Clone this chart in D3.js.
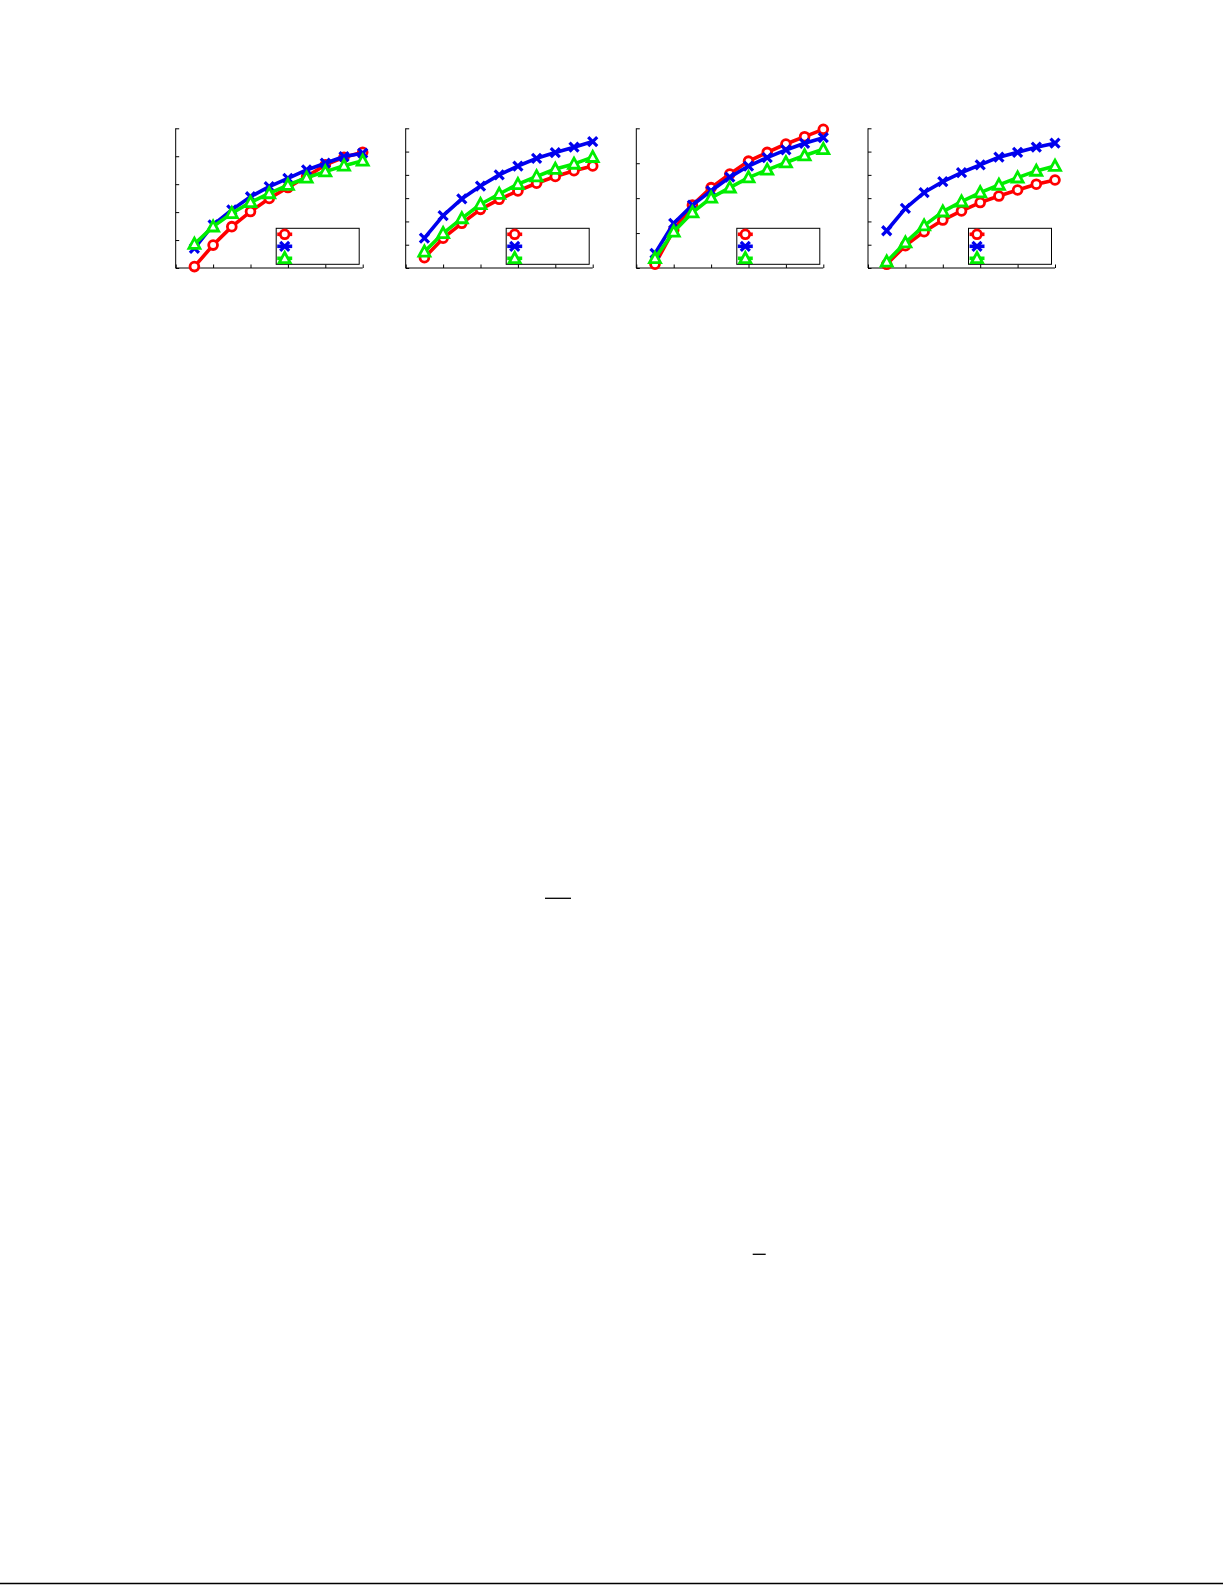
<!DOCTYPE html>
<html>
<head>
<meta charset="utf-8">
<script src="https://cdn.jsdelivr.net/npm/d3@7"></script>
<style>
  html, body { margin: 0; padding: 0; background: #fff; }
  svg { display: block; }
</style>
</head>
<body>
<script>
// x positions shared by all four panels
var xs = [1, 2, 3, 4, 5, 6, 7, 8, 9, 10];
var xTicks = [0, 2, 4, 6, 8, 10];

// series names (legend text did not print in the source, so kept blank)
var seriesNames = ["", "", ""];

// y tick ranges per panel (no tick labels are printed)
var yMax = [5, 6, 4, 6];

// panel 1
var p1Red   = [0.05, 0.82, 1.48, 2.02, 2.49, 2.88, 3.27, 3.69, 3.96, 4.14];
var p1Blue  = [0.70, 1.54, 2.08, 2.55, 2.91, 3.21, 3.51, 3.75, 3.99, 4.11];
var p1Green = [0.86, 1.48, 1.96, 2.35, 2.67, 2.97, 3.23, 3.45, 3.66, 3.84];
// panel 2
var p2Red   = [0.44, 1.28, 1.92, 2.52, 2.95, 3.31, 3.64, 3.93, 4.18, 4.38];
var p2Blue  = [1.28, 2.25, 2.97, 3.52, 4.00, 4.38, 4.71, 4.96, 5.19, 5.43];
var p2Green = [0.70, 1.49, 2.13, 2.74, 3.18, 3.60, 3.93, 4.25, 4.47, 4.76];
// panel 3
var p3Red   = [0.11, 1.09, 1.80, 2.30, 2.69, 3.06, 3.31, 3.55, 3.76, 3.97];
var p3Blue  = [0.42, 1.28, 1.80, 2.21, 2.60, 2.92, 3.16, 3.38, 3.57, 3.73];
var p3Green = [0.28, 1.04, 1.59, 2.01, 2.30, 2.59, 2.81, 3.02, 3.22, 3.40];
// panel 4
var p4Red   = [0.16, 0.96, 1.56, 2.06, 2.45, 2.81, 3.09, 3.35, 3.60, 3.78];
var p4Blue  = [1.60, 2.56, 3.24, 3.71, 4.10, 4.43, 4.76, 4.97, 5.19, 5.36];
var p4Green = [0.27, 1.09, 1.82, 2.42, 2.85, 3.24, 3.57, 3.88, 4.17, 4.38];

var panels = [
  [p1Red, p1Blue, p1Green],
  [p2Red, p2Blue, p2Green],
  [p3Red, p3Blue, p3Green],
  [p4Red, p4Blue, p4Green]
];

var colors = ["#ff0000", "#0000ee", "#00ee00"];
var markers = ["circle", "cross", "triangle"];

var W = 1225, H = 1585;
var svg = d3.select("body").append("svg")
  .attr("width", W)
  .attr("height", H);

var pw = 187, ph = 139.7, panelTop = 128.3;
var lefts = [175.7, 405.7, 636.3, 868];

function drawMarker(g, type, color) {
  if (type === "circle") {
    g.append("circle").attr("r", 4.4)
      .attr("fill", "#fff").attr("stroke", color).attr("stroke-width", 2.8);
  } else if (type === "cross") {
    var s = 4.5;
    g.append("path")
      .attr("d", "M" + -s + "," + -s + "L" + s + "," + s + "M" + -s + "," + s + "L" + s + "," + -s)
      .attr("stroke", color).attr("stroke-width", 3.2).attr("fill", "none");
  } else {
    var a = 5.8;
    g.append("path")
      .attr("d", "M0," + (-a) + "L" + (a * 0.95) + "," + (a * 0.75) + "L" + (-a * 0.95) + "," + (a * 0.75) + "Z")
      .attr("fill", "#fff").attr("stroke", color).attr("stroke-width", 2.8)
      .attr("stroke-linejoin", "miter");
  }
}

panels.forEach(function (series, pi) {
  var g = svg.append("g")
    .attr("transform", "translate(" + lefts[pi] + "," + panelTop + ")");

  var x = d3.scaleLinear().domain([0, 10]).range([0, pw]);
  var y = d3.scaleLinear().domain([0, yMax[pi]]).range([ph, 0]);

  // axes with inward ticks, no labels
  g.append("g")
    .attr("transform", "translate(0," + ph + ")")
    .call(d3.axisTop(x).tickValues(xTicks).tickSize(3.5).tickFormat(""))
    .call(function (a) {
      a.select(".domain").attr("d", "M0,0H" + pw);
      a.selectAll("path, line").attr("stroke", "#000").attr("stroke-width", 1);
    });
  g.append("g")
    .call(d3.axisRight(y).ticks(yMax[pi]).tickSize(3.5).tickFormat(""))
    .call(function (a) {
      a.select(".domain").attr("d", "M0," + ph + "V0");
      a.selectAll("path, line").attr("stroke", "#000").attr("stroke-width", 1);
    });

  var line = d3.line()
    .x(function (d, i) { return x(xs[i]); })
    .y(function (d) { return y(d); });

  series.forEach(function (vals, si) {
    var sg = g.append("g");
    sg.append("path")
      .datum(vals)
      .attr("d", line)
      .attr("fill", "none")
      .attr("stroke", colors[si])
      .attr("stroke-width", 3.6)
      .attr("stroke-linejoin", "round");
    vals.forEach(function (v, i) {
      var m = sg.append("g")
        .attr("transform", "translate(" + x(xs[i]) + "," + y(v) + ")");
      drawMarker(m, markers[si], colors[si]);
    });
  });

  // legend box in lower right
  var lw = 83, lh = 36;
  var lg = g.append("g")
    .attr("transform", "translate(" + (pw - lw - 3.5) + "," + (ph - lh - 3.7) + ")");
  lg.append("rect")
    .attr("width", lw).attr("height", lh)
    .attr("fill", "#fff").attr("stroke", "#000").attr("stroke-width", 1);
  seriesNames.forEach(function (name, si) {
    var ry = 6 + si * 12;
    lg.append("line")
      .attr("x1", 1).attr("x2", 16).attr("y1", ry).attr("y2", ry)
      .attr("stroke", colors[si]).attr("stroke-width", 3.6);
    var m = lg.append("g").attr("transform", "translate(8.5," + ry + ")");
    drawMarker(m, markers[si], colors[si]);
    lg.append("text")
      .attr("x", 22).attr("y", ry + 3)
      .attr("font-family", "DejaVu Sans")
      .attr("font-size", 9)
      .text(name);
  });
});

// stray rules on the page
svg.append("line").attr("x1", 545).attr("x2", 571).attr("y1", 898.3).attr("y2", 898.3)
  .attr("stroke", "#000").attr("stroke-width", 1.3);
svg.append("line").attr("x1", 752.7).attr("x2", 765.7).attr("y1", 1254.3).attr("y2", 1254.3)
  .attr("stroke", "#000").attr("stroke-width", 1.3);
svg.append("line").attr("x1", 0).attr("x2", 1223).attr("y1", 1583.5).attr("y2", 1583.5)
  .attr("stroke", "#000").attr("stroke-width", 1.6);
</script>
</body>
</html>
